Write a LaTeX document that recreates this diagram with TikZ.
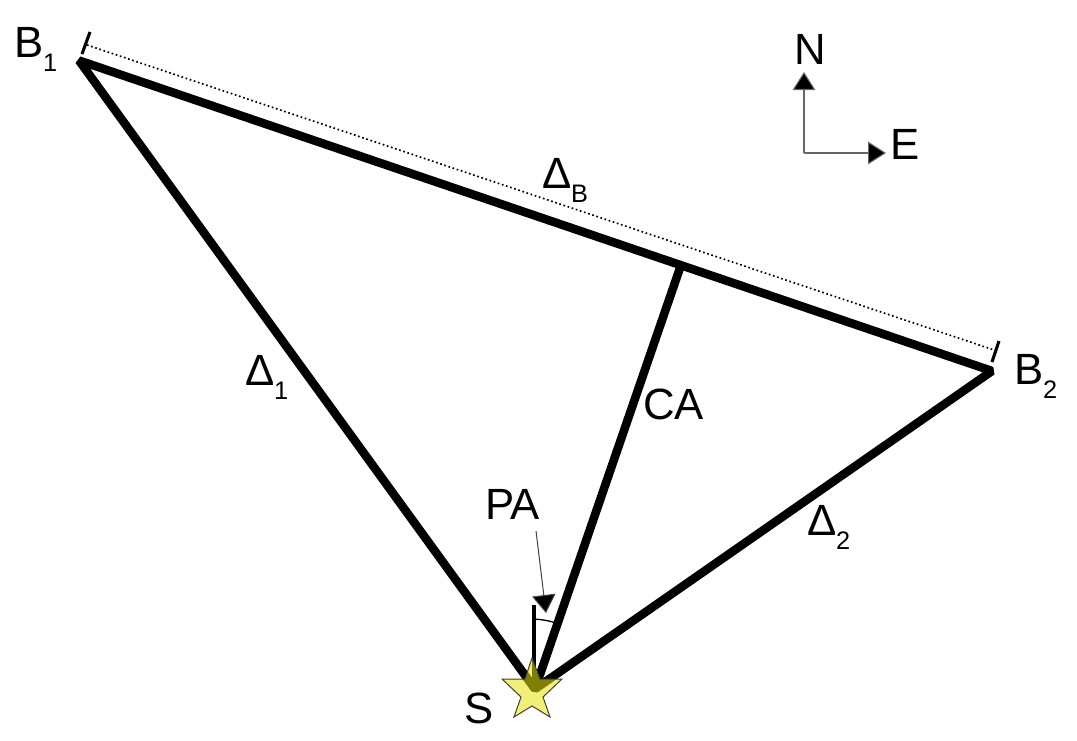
\documentclass[tikz,border=0pt]{standalone}
\usepackage{fontspec}
\setmainfont{Liberation Sans}
\usetikzlibrary{arrows.meta}
\newcommand{\subt}[1]{\raisebox{-11.2pt}{\fontsize{19}{19}\selectfont #1}}
\tikzset{
  x=0.75pt,y=-0.75pt,
  lab/.style={anchor=base west,inner sep=0pt,outer sep=0pt,font=\fontsize{32.8}{33}\selectfont},
  heavy/.style={line width=6.4pt,line join=bevel},
  tickline/.style={line width=2.3pt,black},
  compass/.style={line width=0.8pt,draw=black!60,-{Triangle[length=13.5pt,width=17pt,fill=black]}},
  thinarrow/.style={line width=0.75pt,draw=black!75,-{Triangle[length=13.5pt,width=17.5pt,fill=black]}},
  starshape/.style={fill={rgb,255:red,228;green,228;blue,14},fill opacity=0.56,draw=black!85!yellow,line width=0.75pt,line join=miter}
}
\begin{document}
\begin{tikzpicture}
\useasboundingbox (0,0) rectangle (1077,740);
\coordinate (B1) at (79,60.5);
\coordinate (B2) at (992,371);
\coordinate (S) at (535,689);
\coordinate (CAtop) at (681,265);
\coordinate (T1a) at (90,32);
\coordinate (T1b) at (82,54);
\coordinate (T2a) at (999,341);
\coordinate (T2b) at (992,362);
\coordinate (D1) at (87,45);
\coordinate (D2) at (994,350);
\coordinate (O) at (804,153);
\coordinate (Nt) at (804,72);
\coordinate (Et) at (886,153);
\coordinate (Pa) at (536,531);
\coordinate (Pb) at (546,613);
\coordinate (Va) at (534,605);
\coordinate (Vb) at (534,688);
\coordinate (Aa) at (534,619);
\coordinate (Ab) at (556,623);

\draw[heavy] (B2) -- (B1) -- (S) -- cycle;
\draw[heavy] (CAtop) -- (S);
\draw[tickline] (T1a) -- (T1b);
\draw[tickline] (T2a) -- (T2b);
\draw[line width=1.25pt,dotted] (D1) -- (D2);
\draw[compass] (O) -- (Nt);
\draw[compass] (O) -- (Et);
\draw[thinarrow] (Pa) -- (Pb);
\draw[line width=2.6pt] (Va) -- (Vb);
\draw[line width=1pt] (Aa) .. controls (541,619.5) and (549,620.5) .. (Ab);
\draw[starshape] (532,658) -- (540,679) -- (562,679) -- (543,697) -- (550,717) -- (532,706) -- (514,717) -- (521,697) -- (502,679) -- (525,679) -- cycle;

\node[lab] (lB1) at (14,57) {B\subt{1}};
\node[lab] (lB2) at (1014,384) {B\subt{2}};
\node[lab] (lN) at (794,64) {N};
\node[lab] (lE) at (890,159) {E};
\node[lab] (lDB) at (542,188) {Δ\subt{B}};
\node[lab] (lD1) at (245,385) {Δ\subt{1}};
\node[lab] (lD2) at (807,535) {Δ\subt{2}};
\node[lab] (lCA) at (643,419) {CA};
\node[lab] (lPA) at (485,519) {PA};
\node[lab] (lS) at (464,723) {S};
\end{tikzpicture}
\end{document}
